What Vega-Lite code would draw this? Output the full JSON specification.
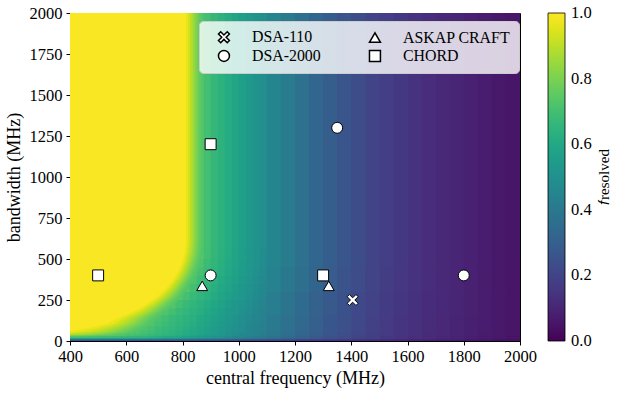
{
"$schema":"https://vega.github.io/schema/vega-lite/v6.json",
"width":450,"height":328,
"autosize":{"type":"none"},
"padding":{"left":70,"top":13,"right":103,"bottom":52},
"background":"white",
"config":{"font":"Liberation Serif","view":{"stroke":"black","strokeWidth":1},
"axis":{"domainColor":"black","tickColor":"black","labelColor":"black","titleColor":"black","labelFontSize":16.5,"titleFontSize":18,"titleFontWeight":"normal","grid":false,"tickSize":4,"labelFlush":false,"labelOverlap":false,"labelFont":"Liberation Serif","titleFont":"Liberation Serif","format":"d"}},
"datasets":{
"grid":[
{"a":400,"b":425,"c":0,"d":5,"f":0.235},{"a":400,"b":425,"c":5,"d":12,"f":0.373},{"a":400,"b":425,"c":12,"d":20,"f":0.593},{"a":400,"b":425,"c":20,"d":30,"f":0.71},{"a":400,"b":425,"c":30,"d":45,"f":0.869},{"a":400,"b":425,"c":45,"d":65,"f":0.965},{"a":400,"b":425,"c":65,"d":90,"f":0.996},{"a":400,"b":425,"c":90,"d":2000,"f":1},
{"a":425,"b":450,"c":0,"d":5,"f":0.235},{"a":425,"b":450,"c":5,"d":12,"f":0.372},{"a":425,"b":450,"c":12,"d":20,"f":0.591},{"a":425,"b":450,"c":20,"d":30,"f":0.706},{"a":425,"b":450,"c":30,"d":45,"f":0.853},{"a":425,"b":450,"c":45,"d":65,"f":0.95},{"a":425,"b":450,"c":65,"d":90,"f":0.992},{"a":425,"b":450,"c":90,"d":2000,"f":1},
{"a":450,"b":475,"c":0,"d":5,"f":0.234},{"a":450,"b":475,"c":5,"d":12,"f":0.371},{"a":450,"b":475,"c":12,"d":20,"f":0.589},{"a":450,"b":475,"c":20,"d":30,"f":0.702},{"a":450,"b":475,"c":30,"d":45,"f":0.833},{"a":450,"b":475,"c":45,"d":65,"f":0.93},{"a":450,"b":475,"c":65,"d":90,"f":0.98},{"a":450,"b":475,"c":90,"d":2000,"f":1},
{"a":475,"b":500,"c":0,"d":5,"f":0.234},{"a":475,"b":500,"c":5,"d":12,"f":0.37},{"a":475,"b":500,"c":12,"d":20,"f":0.586},{"a":475,"b":500,"c":20,"d":30,"f":0.696},{"a":475,"b":500,"c":30,"d":45,"f":0.81},{"a":475,"b":500,"c":45,"d":65,"f":0.906},{"a":475,"b":500,"c":65,"d":90,"f":0.96},{"a":475,"b":500,"c":90,"d":2000,"f":1},
{"a":500,"b":525,"c":0,"d":5,"f":0.233},{"a":500,"b":525,"c":5,"d":12,"f":0.369},{"a":500,"b":525,"c":12,"d":20,"f":0.583},{"a":500,"b":525,"c":20,"d":30,"f":0.689},{"a":500,"b":525,"c":30,"d":45,"f":0.789},{"a":500,"b":525,"c":45,"d":65,"f":0.88},{"a":500,"b":525,"c":65,"d":90,"f":0.935},{"a":500,"b":525,"c":90,"d":120,"f":0.993},{"a":500,"b":525,"c":120,"d":2000,"f":1},
{"a":525,"b":550,"c":0,"d":5,"f":0.232},{"a":525,"b":550,"c":5,"d":12,"f":0.367},{"a":525,"b":550,"c":12,"d":20,"f":0.579},{"a":525,"b":550,"c":20,"d":30,"f":0.681},{"a":525,"b":550,"c":30,"d":45,"f":0.765},{"a":525,"b":550,"c":45,"d":65,"f":0.848},{"a":525,"b":550,"c":65,"d":90,"f":0.901},{"a":525,"b":550,"c":90,"d":120,"f":0.975},{"a":525,"b":550,"c":120,"d":160,"f":0.998},{"a":525,"b":550,"c":160,"d":2000,"f":1},
{"a":550,"b":575,"c":0,"d":5,"f":0.231},{"a":550,"b":575,"c":5,"d":12,"f":0.365},{"a":550,"b":575,"c":12,"d":20,"f":0.575},{"a":550,"b":575,"c":20,"d":30,"f":0.675},{"a":550,"b":575,"c":30,"d":45,"f":0.745},{"a":550,"b":575,"c":45,"d":65,"f":0.815},{"a":550,"b":575,"c":65,"d":90,"f":0.868},{"a":550,"b":575,"c":90,"d":120,"f":0.943},{"a":550,"b":575,"c":120,"d":160,"f":0.99},{"a":550,"b":575,"c":160,"d":2000,"f":1},
{"a":575,"b":600,"c":0,"d":5,"f":0.23},{"a":575,"b":600,"c":5,"d":12,"f":0.363},{"a":575,"b":600,"c":12,"d":20,"f":0.57},{"a":575,"b":600,"c":20,"d":30,"f":0.669},{"a":575,"b":600,"c":30,"d":45,"f":0.726},{"a":575,"b":600,"c":45,"d":65,"f":0.781},{"a":575,"b":600,"c":65,"d":90,"f":0.827},{"a":575,"b":600,"c":90,"d":120,"f":0.901},{"a":575,"b":600,"c":120,"d":160,"f":0.956},{"a":575,"b":600,"c":160,"d":2000,"f":1},
{"a":600,"b":625,"c":0,"d":5,"f":0.229},{"a":600,"b":625,"c":5,"d":12,"f":0.361},{"a":600,"b":625,"c":12,"d":20,"f":0.565},{"a":600,"b":625,"c":20,"d":30,"f":0.662},{"a":600,"b":625,"c":30,"d":45,"f":0.71},{"a":600,"b":625,"c":45,"d":65,"f":0.75},{"a":600,"b":625,"c":65,"d":90,"f":0.786},{"a":600,"b":625,"c":90,"d":120,"f":0.854},{"a":600,"b":625,"c":120,"d":160,"f":0.908},{"a":600,"b":625,"c":160,"d":200,"f":0.995},{"a":600,"b":625,"c":200,"d":2000,"f":1},
{"a":625,"b":650,"c":0,"d":5,"f":0.228},{"a":625,"b":650,"c":5,"d":12,"f":0.358},{"a":625,"b":650,"c":12,"d":20,"f":0.559},{"a":625,"b":650,"c":20,"d":30,"f":0.654},{"a":625,"b":650,"c":30,"d":45,"f":0.697},{"a":625,"b":650,"c":45,"d":65,"f":0.725},{"a":625,"b":650,"c":65,"d":90,"f":0.751},{"a":625,"b":650,"c":90,"d":120,"f":0.804},{"a":625,"b":650,"c":120,"d":160,"f":0.856},{"a":625,"b":650,"c":160,"d":200,"f":0.963},{"a":625,"b":650,"c":200,"d":2000,"f":1},
{"a":650,"b":675,"c":0,"d":5,"f":0.227},{"a":650,"b":675,"c":5,"d":12,"f":0.355},{"a":650,"b":675,"c":12,"d":20,"f":0.553},{"a":650,"b":675,"c":20,"d":30,"f":0.646},{"a":650,"b":675,"c":30,"d":45,"f":0.682},{"a":650,"b":675,"c":45,"d":65,"f":0.706},{"a":650,"b":675,"c":65,"d":90,"f":0.722},{"a":650,"b":675,"c":90,"d":120,"f":0.76},{"a":650,"b":675,"c":120,"d":160,"f":0.8},{"a":650,"b":675,"c":160,"d":200,"f":0.903},{"a":650,"b":675,"c":200,"d":250,"f":0.994},{"a":650,"b":675,"c":250,"d":2000,"f":1},
{"a":675,"b":700,"c":0,"d":5,"f":0.225},{"a":675,"b":700,"c":5,"d":12,"f":0.352},{"a":675,"b":700,"c":12,"d":20,"f":0.546},{"a":675,"b":700,"c":20,"d":30,"f":0.636},{"a":675,"b":700,"c":30,"d":45,"f":0.671},{"a":675,"b":700,"c":45,"d":65,"f":0.69},{"a":675,"b":700,"c":65,"d":90,"f":0.703},{"a":675,"b":700,"c":90,"d":120,"f":0.726},{"a":675,"b":700,"c":120,"d":160,"f":0.753},{"a":675,"b":700,"c":160,"d":200,"f":0.84},{"a":675,"b":700,"c":200,"d":250,"f":0.948},{"a":675,"b":700,"c":250,"d":2000,"f":1},
{"a":700,"b":725,"c":0,"d":5,"f":0.223},{"a":700,"b":725,"c":5,"d":12,"f":0.348},{"a":700,"b":725,"c":12,"d":20,"f":0.538},{"a":700,"b":725,"c":20,"d":30,"f":0.626},{"a":700,"b":725,"c":30,"d":45,"f":0.66},{"a":700,"b":725,"c":45,"d":65,"f":0.674},{"a":700,"b":725,"c":65,"d":90,"f":0.685},{"a":700,"b":725,"c":90,"d":120,"f":0.703},{"a":700,"b":725,"c":120,"d":160,"f":0.719},{"a":700,"b":725,"c":160,"d":200,"f":0.774},{"a":700,"b":725,"c":200,"d":250,"f":0.872},{"a":700,"b":725,"c":250,"d":300,"f":0.985},{"a":700,"b":725,"c":300,"d":2000,"f":1},
{"a":725,"b":750,"c":0,"d":5,"f":0.221},{"a":725,"b":750,"c":5,"d":12,"f":0.345},{"a":725,"b":750,"c":12,"d":20,"f":0.529},{"a":725,"b":750,"c":20,"d":30,"f":0.613},{"a":725,"b":750,"c":30,"d":45,"f":0.648},{"a":725,"b":750,"c":45,"d":65,"f":0.662},{"a":725,"b":750,"c":65,"d":90,"f":0.67},{"a":725,"b":750,"c":90,"d":120,"f":0.683},{"a":725,"b":750,"c":120,"d":160,"f":0.696},{"a":725,"b":750,"c":160,"d":200,"f":0.728},{"a":725,"b":750,"c":200,"d":250,"f":0.794},{"a":725,"b":750,"c":250,"d":300,"f":0.908},{"a":725,"b":750,"c":300,"d":350,"f":0.992},{"a":725,"b":750,"c":350,"d":2000,"f":1},
{"a":750,"b":775,"c":0,"d":5,"f":0.219},{"a":750,"b":775,"c":5,"d":12,"f":0.341},{"a":750,"b":775,"c":12,"d":20,"f":0.52},{"a":750,"b":775,"c":20,"d":30,"f":0.599},{"a":750,"b":775,"c":30,"d":45,"f":0.635},{"a":750,"b":775,"c":45,"d":65,"f":0.649},{"a":750,"b":775,"c":65,"d":90,"f":0.656},{"a":750,"b":775,"c":90,"d":120,"f":0.668},{"a":750,"b":775,"c":120,"d":160,"f":0.676},{"a":750,"b":775,"c":160,"d":200,"f":0.7},{"a":750,"b":775,"c":200,"d":250,"f":0.736},{"a":750,"b":775,"c":250,"d":300,"f":0.819},{"a":750,"b":775,"c":300,"d":350,"f":0.915},{"a":750,"b":775,"c":350,"d":400,"f":0.99},{"a":750,"b":775,"c":400,"d":2000,"f":1},
{"a":775,"b":800,"c":0,"d":5,"f":0.217},{"a":775,"b":800,"c":5,"d":12,"f":0.336},{"a":775,"b":800,"c":12,"d":20,"f":0.511},{"a":775,"b":800,"c":20,"d":30,"f":0.587},{"a":775,"b":800,"c":30,"d":45,"f":0.62},{"a":775,"b":800,"c":45,"d":65,"f":0.634},{"a":775,"b":800,"c":65,"d":90,"f":0.642},{"a":775,"b":800,"c":90,"d":120,"f":0.653},{"a":775,"b":800,"c":120,"d":160,"f":0.66},{"a":775,"b":800,"c":160,"d":200,"f":0.677},{"a":775,"b":800,"c":200,"d":250,"f":0.702},{"a":775,"b":800,"c":250,"d":300,"f":0.745},{"a":775,"b":800,"c":300,"d":350,"f":0.815},{"a":775,"b":800,"c":350,"d":400,"f":0.9},{"a":775,"b":800,"c":400,"d":450,"f":0.972},{"a":775,"b":800,"c":450,"d":500,"f":0.997},{"a":775,"b":800,"c":500,"d":2000,"f":1},
{"a":800,"b":825,"c":0,"d":5,"f":0.214},{"a":800,"b":825,"c":5,"d":12,"f":0.331},{"a":800,"b":825,"c":12,"d":20,"f":0.5},{"a":800,"b":825,"c":20,"d":30,"f":0.574},{"a":800,"b":825,"c":30,"d":45,"f":0.603},{"a":800,"b":825,"c":45,"d":65,"f":0.618},{"a":800,"b":825,"c":65,"d":90,"f":0.626},{"a":800,"b":825,"c":90,"d":120,"f":0.637},{"a":800,"b":825,"c":120,"d":160,"f":0.645},{"a":800,"b":825,"c":160,"d":200,"f":0.66},{"a":800,"b":825,"c":200,"d":250,"f":0.677},{"a":800,"b":825,"c":250,"d":300,"f":0.704},{"a":800,"b":825,"c":300,"d":350,"f":0.738},{"a":800,"b":825,"c":350,"d":400,"f":0.794},{"a":800,"b":825,"c":400,"d":450,"f":0.865},{"a":800,"b":825,"c":450,"d":500,"f":0.919},{"a":800,"b":825,"c":500,"d":560,"f":0.961},{"a":800,"b":825,"c":560,"d":2000,"f":0.98},
{"a":825,"b":850,"c":0,"d":5,"f":0.212},{"a":825,"b":850,"c":5,"d":12,"f":0.326},{"a":825,"b":850,"c":12,"d":20,"f":0.489},{"a":825,"b":850,"c":20,"d":30,"f":0.56},{"a":825,"b":850,"c":30,"d":45,"f":0.588},{"a":825,"b":850,"c":45,"d":65,"f":0.599},{"a":825,"b":850,"c":65,"d":90,"f":0.607},{"a":825,"b":850,"c":90,"d":120,"f":0.619},{"a":825,"b":850,"c":120,"d":160,"f":0.628},{"a":825,"b":850,"c":160,"d":200,"f":0.643},{"a":825,"b":850,"c":200,"d":250,"f":0.658},{"a":825,"b":850,"c":250,"d":300,"f":0.676},{"a":825,"b":850,"c":300,"d":350,"f":0.698},{"a":825,"b":850,"c":350,"d":400,"f":0.723},{"a":825,"b":850,"c":400,"d":450,"f":0.76},{"a":825,"b":850,"c":450,"d":500,"f":0.8},{"a":825,"b":850,"c":500,"d":560,"f":0.842},{"a":825,"b":850,"c":560,"d":2000,"f":0.863},
{"a":850,"b":875,"c":0,"d":5,"f":0.21},{"a":850,"b":875,"c":5,"d":12,"f":0.32},{"a":850,"b":875,"c":12,"d":20,"f":0.477},{"a":850,"b":875,"c":20,"d":30,"f":0.546},{"a":850,"b":875,"c":30,"d":45,"f":0.572},{"a":850,"b":875,"c":45,"d":65,"f":0.583},{"a":850,"b":875,"c":65,"d":90,"f":0.59},{"a":850,"b":875,"c":90,"d":120,"f":0.599},{"a":850,"b":875,"c":120,"d":160,"f":0.607},{"a":850,"b":875,"c":160,"d":200,"f":0.624},{"a":850,"b":875,"c":200,"d":250,"f":0.64},{"a":850,"b":875,"c":250,"d":300,"f":0.656},{"a":850,"b":875,"c":300,"d":350,"f":0.671},{"a":850,"b":875,"c":350,"d":400,"f":0.687},{"a":850,"b":875,"c":400,"d":450,"f":0.706},{"a":850,"b":875,"c":450,"d":500,"f":0.722},{"a":850,"b":875,"c":500,"d":560,"f":0.741},{"a":850,"b":875,"c":560,"d":2000,"f":0.753},
{"a":875,"b":900,"c":0,"d":5,"f":0.207},{"a":875,"b":900,"c":5,"d":12,"f":0.314},{"a":875,"b":900,"c":12,"d":20,"f":0.466},{"a":875,"b":900,"c":20,"d":30,"f":0.531},{"a":875,"b":900,"c":30,"d":45,"f":0.556},{"a":875,"b":900,"c":45,"d":65,"f":0.567},{"a":875,"b":900,"c":65,"d":90,"f":0.573},{"a":875,"b":900,"c":90,"d":120,"f":0.581},{"a":875,"b":900,"c":120,"d":160,"f":0.588},{"a":875,"b":900,"c":160,"d":200,"f":0.601},{"a":875,"b":900,"c":200,"d":250,"f":0.618},{"a":875,"b":900,"c":250,"d":300,"f":0.636},{"a":875,"b":900,"c":300,"d":350,"f":0.65},{"a":875,"b":900,"c":350,"d":400,"f":0.662},{"a":875,"b":900,"c":400,"d":450,"f":0.674},{"a":875,"b":900,"c":450,"d":500,"f":0.683},{"a":875,"b":900,"c":500,"d":560,"f":0.694},{"a":875,"b":900,"c":560,"d":2000,"f":0.7},
{"a":900,"b":925,"c":0,"d":5,"f":0.204},{"a":900,"b":925,"c":5,"d":12,"f":0.307},{"a":900,"b":925,"c":12,"d":20,"f":0.455},{"a":900,"b":925,"c":20,"d":30,"f":0.515},{"a":900,"b":925,"c":30,"d":45,"f":0.539},{"a":900,"b":925,"c":45,"d":65,"f":0.549},{"a":900,"b":925,"c":65,"d":90,"f":0.555},{"a":900,"b":925,"c":90,"d":120,"f":0.564},{"a":900,"b":925,"c":120,"d":160,"f":0.569},{"a":900,"b":925,"c":160,"d":200,"f":0.582},{"a":900,"b":925,"c":200,"d":250,"f":0.595},{"a":900,"b":925,"c":250,"d":300,"f":0.612},{"a":900,"b":925,"c":300,"d":350,"f":0.627},{"a":900,"b":925,"c":350,"d":400,"f":0.64},{"a":900,"b":925,"c":400,"d":450,"f":0.65},{"a":900,"b":925,"c":450,"d":500,"f":0.658},{"a":900,"b":925,"c":500,"d":560,"f":0.664},{"a":900,"b":925,"c":560,"d":2000,"f":0.668},
{"a":925,"b":950,"c":0,"d":5,"f":0.201},{"a":925,"b":950,"c":5,"d":12,"f":0.301},{"a":925,"b":950,"c":12,"d":20,"f":0.442},{"a":925,"b":950,"c":20,"d":30,"f":0.499},{"a":925,"b":950,"c":30,"d":45,"f":0.522},{"a":925,"b":950,"c":45,"d":65,"f":0.531},{"a":925,"b":950,"c":65,"d":90,"f":0.537},{"a":925,"b":950,"c":90,"d":120,"f":0.545},{"a":925,"b":950,"c":120,"d":160,"f":0.55},{"a":925,"b":950,"c":160,"d":200,"f":0.563},{"a":925,"b":950,"c":200,"d":250,"f":0.575},{"a":925,"b":950,"c":250,"d":300,"f":0.589},{"a":925,"b":950,"c":300,"d":350,"f":0.6},{"a":925,"b":950,"c":350,"d":400,"f":0.614},{"a":925,"b":950,"c":400,"d":450,"f":0.626},{"a":925,"b":950,"c":450,"d":500,"f":0.634},{"a":925,"b":950,"c":500,"d":560,"f":0.64},{"a":925,"b":950,"c":560,"d":2000,"f":0.643},
{"a":950,"b":975,"c":0,"d":5,"f":0.198},{"a":950,"b":975,"c":5,"d":12,"f":0.295},{"a":950,"b":975,"c":12,"d":20,"f":0.429},{"a":950,"b":975,"c":20,"d":30,"f":0.482},{"a":950,"b":975,"c":30,"d":45,"f":0.504},{"a":950,"b":975,"c":45,"d":65,"f":0.513},{"a":950,"b":975,"c":65,"d":90,"f":0.518},{"a":950,"b":975,"c":90,"d":120,"f":0.526},{"a":950,"b":975,"c":120,"d":160,"f":0.531},{"a":950,"b":975,"c":160,"d":200,"f":0.542},{"a":950,"b":975,"c":200,"d":250,"f":0.554},{"a":950,"b":975,"c":250,"d":300,"f":0.567},{"a":950,"b":975,"c":300,"d":350,"f":0.578},{"a":950,"b":975,"c":350,"d":400,"f":0.588},{"a":950,"b":975,"c":400,"d":450,"f":0.598},{"a":950,"b":975,"c":450,"d":500,"f":0.605},{"a":950,"b":975,"c":500,"d":560,"f":0.612},{"a":950,"b":975,"c":560,"d":2000,"f":0.615},
{"a":975,"b":1000,"c":0,"d":5,"f":0.194},{"a":975,"b":1000,"c":5,"d":12,"f":0.288},{"a":975,"b":1000,"c":12,"d":20,"f":0.417},{"a":975,"b":1000,"c":20,"d":30,"f":0.466},{"a":975,"b":1000,"c":30,"d":45,"f":0.485},{"a":975,"b":1000,"c":45,"d":65,"f":0.494},{"a":975,"b":1000,"c":65,"d":90,"f":0.499},{"a":975,"b":1000,"c":90,"d":120,"f":0.506},{"a":975,"b":1000,"c":120,"d":160,"f":0.511},{"a":975,"b":1000,"c":160,"d":200,"f":0.522},{"a":975,"b":1000,"c":200,"d":250,"f":0.533},{"a":975,"b":1000,"c":250,"d":300,"f":0.545},{"a":975,"b":1000,"c":300,"d":350,"f":0.556},{"a":975,"b":1000,"c":350,"d":400,"f":0.565},{"a":975,"b":1000,"c":400,"d":450,"f":0.574},{"a":975,"b":1000,"c":450,"d":500,"f":0.58},{"a":975,"b":1000,"c":500,"d":560,"f":0.585},{"a":975,"b":1000,"c":560,"d":2000,"f":0.588},
{"a":1000,"b":1025,"c":0,"d":5,"f":0.19},{"a":1000,"b":1025,"c":5,"d":12,"f":0.28},{"a":1000,"b":1025,"c":12,"d":20,"f":0.405},{"a":1000,"b":1025,"c":20,"d":30,"f":0.45},{"a":1000,"b":1025,"c":30,"d":45,"f":0.468},{"a":1000,"b":1025,"c":45,"d":65,"f":0.475},{"a":1000,"b":1025,"c":65,"d":90,"f":0.48},{"a":1000,"b":1025,"c":90,"d":120,"f":0.486},{"a":1000,"b":1025,"c":120,"d":160,"f":0.491},{"a":1000,"b":1025,"c":160,"d":200,"f":0.5},{"a":1000,"b":1025,"c":200,"d":250,"f":0.511},{"a":1000,"b":1025,"c":250,"d":300,"f":0.523},{"a":1000,"b":1025,"c":300,"d":350,"f":0.533},{"a":1000,"b":1025,"c":350,"d":400,"f":0.542},{"a":1000,"b":1025,"c":400,"d":450,"f":0.55},{"a":1000,"b":1025,"c":450,"d":500,"f":0.555},{"a":1000,"b":1025,"c":500,"d":560,"f":0.56},{"a":1000,"b":1025,"c":560,"d":2000,"f":0.563},
{"a":1025,"b":1050,"c":0,"d":5,"f":0.187},{"a":1025,"b":1050,"c":5,"d":12,"f":0.273},{"a":1025,"b":1050,"c":12,"d":20,"f":0.392},{"a":1025,"b":1050,"c":20,"d":30,"f":0.433},{"a":1025,"b":1050,"c":30,"d":45,"f":0.45},{"a":1025,"b":1050,"c":45,"d":65,"f":0.458},{"a":1025,"b":1050,"c":65,"d":90,"f":0.462},{"a":1025,"b":1050,"c":90,"d":120,"f":0.467},{"a":1025,"b":1050,"c":120,"d":160,"f":0.471},{"a":1025,"b":1050,"c":160,"d":200,"f":0.48},{"a":1025,"b":1050,"c":200,"d":250,"f":0.489},{"a":1025,"b":1050,"c":250,"d":300,"f":0.5},{"a":1025,"b":1050,"c":300,"d":350,"f":0.51},{"a":1025,"b":1050,"c":350,"d":400,"f":0.518},{"a":1025,"b":1050,"c":400,"d":450,"f":0.525},{"a":1025,"b":1050,"c":450,"d":500,"f":0.531},{"a":1025,"b":1050,"c":500,"d":560,"f":0.535},{"a":1025,"b":1050,"c":560,"d":2000,"f":0.538},
{"a":1050,"b":1075,"c":0,"d":5,"f":0.184},{"a":1050,"b":1075,"c":5,"d":12,"f":0.266},{"a":1050,"b":1075,"c":12,"d":20,"f":0.379},{"a":1050,"b":1075,"c":20,"d":30,"f":0.418},{"a":1050,"b":1075,"c":30,"d":45,"f":0.432},{"a":1050,"b":1075,"c":45,"d":65,"f":0.439},{"a":1050,"b":1075,"c":65,"d":90,"f":0.443},{"a":1050,"b":1075,"c":90,"d":120,"f":0.449},{"a":1050,"b":1075,"c":120,"d":160,"f":0.453},{"a":1050,"b":1075,"c":160,"d":200,"f":0.461},{"a":1050,"b":1075,"c":200,"d":250,"f":0.469},{"a":1050,"b":1075,"c":250,"d":300,"f":0.478},{"a":1050,"b":1075,"c":300,"d":350,"f":0.487},{"a":1050,"b":1075,"c":350,"d":400,"f":0.494},{"a":1050,"b":1075,"c":400,"d":450,"f":0.501},{"a":1050,"b":1075,"c":450,"d":500,"f":0.507},{"a":1050,"b":1075,"c":500,"d":560,"f":0.511},{"a":1050,"b":1075,"c":560,"d":2000,"f":0.513},
{"a":1075,"b":1100,"c":0,"d":5,"f":0.181},{"a":1075,"b":1100,"c":5,"d":12,"f":0.259},{"a":1075,"b":1100,"c":12,"d":20,"f":0.365},{"a":1075,"b":1100,"c":20,"d":30,"f":0.403},{"a":1075,"b":1100,"c":30,"d":45,"f":0.416},{"a":1075,"b":1100,"c":45,"d":65,"f":0.422},{"a":1075,"b":1100,"c":65,"d":90,"f":0.425},{"a":1075,"b":1100,"c":90,"d":120,"f":0.429},{"a":1075,"b":1100,"c":120,"d":160,"f":0.433},{"a":1075,"b":1100,"c":160,"d":200,"f":0.441},{"a":1075,"b":1100,"c":200,"d":250,"f":0.449},{"a":1075,"b":1100,"c":250,"d":300,"f":0.458},{"a":1075,"b":1100,"c":300,"d":350,"f":0.465},{"a":1075,"b":1100,"c":350,"d":400,"f":0.471},{"a":1075,"b":1100,"c":400,"d":450,"f":0.477},{"a":1075,"b":1100,"c":450,"d":500,"f":0.482},{"a":1075,"b":1100,"c":500,"d":560,"f":0.486},{"a":1075,"b":1100,"c":560,"d":2000,"f":0.488},
{"a":1100,"b":1150,"c":0,"d":5,"f":0.175},{"a":1100,"b":1150,"c":5,"d":12,"f":0.247},{"a":1100,"b":1150,"c":12,"d":20,"f":0.344},{"a":1100,"b":1150,"c":20,"d":30,"f":0.379},{"a":1100,"b":1150,"c":30,"d":65,"f":0.394},{"a":1100,"b":1150,"c":65,"d":160,"f":0.404},{"a":1100,"b":1150,"c":160,"d":300,"f":0.42},{"a":1100,"b":1150,"c":300,"d":450,"f":0.439},{"a":1100,"b":1150,"c":450,"d":2000,"f":0.453},
{"a":1150,"b":1200,"c":0,"d":5,"f":0.167},{"a":1150,"b":1200,"c":5,"d":12,"f":0.231},{"a":1150,"b":1200,"c":12,"d":20,"f":0.315},{"a":1150,"b":1200,"c":20,"d":30,"f":0.347},{"a":1150,"b":1200,"c":30,"d":65,"f":0.36},{"a":1150,"b":1200,"c":65,"d":160,"f":0.369},{"a":1150,"b":1200,"c":160,"d":300,"f":0.383},{"a":1150,"b":1200,"c":300,"d":450,"f":0.4},{"a":1150,"b":1200,"c":450,"d":2000,"f":0.411},
{"a":1200,"b":1250,"c":0,"d":5,"f":0.158},{"a":1200,"b":1250,"c":5,"d":12,"f":0.214},{"a":1200,"b":1250,"c":12,"d":20,"f":0.288},{"a":1200,"b":1250,"c":20,"d":30,"f":0.313},{"a":1200,"b":1250,"c":30,"d":65,"f":0.326},{"a":1200,"b":1250,"c":65,"d":160,"f":0.334},{"a":1200,"b":1250,"c":160,"d":300,"f":0.346},{"a":1200,"b":1250,"c":300,"d":450,"f":0.361},{"a":1200,"b":1250,"c":450,"d":2000,"f":0.371},
{"a":1250,"b":1300,"c":0,"d":5,"f":0.148},{"a":1250,"b":1300,"c":5,"d":12,"f":0.198},{"a":1250,"b":1300,"c":12,"d":20,"f":0.262},{"a":1250,"b":1300,"c":20,"d":30,"f":0.283},{"a":1250,"b":1300,"c":30,"d":65,"f":0.293},{"a":1250,"b":1300,"c":65,"d":160,"f":0.299},{"a":1250,"b":1300,"c":160,"d":300,"f":0.309},{"a":1250,"b":1300,"c":300,"d":450,"f":0.322},{"a":1250,"b":1300,"c":450,"d":2000,"f":0.331},
{"a":1300,"b":1350,"c":0,"d":5,"f":0.141},{"a":1300,"b":1350,"c":5,"d":12,"f":0.184},{"a":1300,"b":1350,"c":12,"d":20,"f":0.238},{"a":1300,"b":1350,"c":20,"d":30,"f":0.256},{"a":1300,"b":1350,"c":30,"d":65,"f":0.263},{"a":1300,"b":1350,"c":65,"d":160,"f":0.268},{"a":1300,"b":1350,"c":160,"d":300,"f":0.276},{"a":1300,"b":1350,"c":300,"d":450,"f":0.286},{"a":1300,"b":1350,"c":450,"d":2000,"f":0.293},
{"a":1350,"b":1400,"c":0,"d":5,"f":0.133},{"a":1350,"b":1400,"c":5,"d":12,"f":0.171},{"a":1350,"b":1400,"c":12,"d":20,"f":0.213},{"a":1350,"b":1400,"c":20,"d":30,"f":0.229},{"a":1350,"b":1400,"c":30,"d":65,"f":0.236},{"a":1350,"b":1400,"c":65,"d":160,"f":0.24},{"a":1350,"b":1400,"c":160,"d":300,"f":0.247},{"a":1350,"b":1400,"c":300,"d":450,"f":0.255},{"a":1350,"b":1400,"c":450,"d":2000,"f":0.26},
{"a":1400,"b":1450,"c":0,"d":5,"f":0.124},{"a":1400,"b":1450,"c":5,"d":12,"f":0.156},{"a":1400,"b":1450,"c":12,"d":20,"f":0.191},{"a":1400,"b":1450,"c":20,"d":30,"f":0.204},{"a":1400,"b":1450,"c":30,"d":65,"f":0.209},{"a":1400,"b":1450,"c":65,"d":160,"f":0.213},{"a":1400,"b":1450,"c":160,"d":300,"f":0.218},{"a":1400,"b":1450,"c":300,"d":450,"f":0.226},{"a":1400,"b":1450,"c":450,"d":2000,"f":0.23},
{"a":1450,"b":1500,"c":0,"d":5,"f":0.116},{"a":1450,"b":1500,"c":5,"d":12,"f":0.144},{"a":1450,"b":1500,"c":12,"d":20,"f":0.175},{"a":1450,"b":1500,"c":20,"d":30,"f":0.183},{"a":1450,"b":1500,"c":30,"d":65,"f":0.187},{"a":1450,"b":1500,"c":65,"d":160,"f":0.189},{"a":1450,"b":1500,"c":160,"d":300,"f":0.194},{"a":1450,"b":1500,"c":300,"d":450,"f":0.199},{"a":1450,"b":1500,"c":450,"d":2000,"f":0.203},
{"a":1500,"b":1550,"c":0,"d":5,"f":0.108},{"a":1500,"b":1550,"c":5,"d":12,"f":0.132},{"a":1500,"b":1550,"c":12,"d":20,"f":0.156},{"a":1500,"b":1550,"c":20,"d":30,"f":0.165},{"a":1500,"b":1550,"c":30,"d":65,"f":0.169},{"a":1500,"b":1550,"c":65,"d":160,"f":0.171},{"a":1500,"b":1550,"c":160,"d":300,"f":0.174},{"a":1500,"b":1550,"c":300,"d":450,"f":0.178},{"a":1500,"b":1550,"c":450,"d":2000,"f":0.181},
{"a":1550,"b":1600,"c":0,"d":5,"f":0.099},{"a":1550,"b":1600,"c":5,"d":12,"f":0.12},{"a":1550,"b":1600,"c":12,"d":20,"f":0.142},{"a":1550,"b":1600,"c":20,"d":30,"f":0.147},{"a":1550,"b":1600,"c":30,"d":65,"f":0.149},{"a":1550,"b":1600,"c":65,"d":160,"f":0.151},{"a":1550,"b":1600,"c":160,"d":300,"f":0.154},{"a":1550,"b":1600,"c":300,"d":450,"f":0.158},{"a":1550,"b":1600,"c":450,"d":2000,"f":0.161},
{"a":1600,"b":1650,"c":0,"d":5,"f":0.09},{"a":1600,"b":1650,"c":5,"d":12,"f":0.11},{"a":1600,"b":1650,"c":12,"d":20,"f":0.128},{"a":1600,"b":1650,"c":20,"d":30,"f":0.133},{"a":1600,"b":1650,"c":30,"d":65,"f":0.136},{"a":1600,"b":1650,"c":65,"d":160,"f":0.137},{"a":1600,"b":1650,"c":160,"d":300,"f":0.139},{"a":1600,"b":1650,"c":300,"d":450,"f":0.141},{"a":1600,"b":1650,"c":450,"d":2000,"f":0.143},
{"a":1650,"b":1700,"c":0,"d":5,"f":0.081},{"a":1650,"b":1700,"c":5,"d":12,"f":0.1},{"a":1650,"b":1700,"c":12,"d":20,"f":0.115},{"a":1650,"b":1700,"c":20,"d":30,"f":0.119},{"a":1650,"b":1700,"c":30,"d":65,"f":0.121},{"a":1650,"b":1700,"c":65,"d":160,"f":0.122},{"a":1650,"b":1700,"c":160,"d":300,"f":0.124},{"a":1650,"b":1700,"c":300,"d":450,"f":0.126},{"a":1650,"b":1700,"c":450,"d":2000,"f":0.128},
{"a":1700,"b":1750,"c":0,"d":5,"f":0.071},{"a":1700,"b":1750,"c":5,"d":12,"f":0.089},{"a":1700,"b":1750,"c":12,"d":20,"f":0.104},{"a":1700,"b":1750,"c":20,"d":30,"f":0.107},{"a":1700,"b":1750,"c":30,"d":65,"f":0.109},{"a":1700,"b":1750,"c":65,"d":160,"f":0.11},{"a":1700,"b":1750,"c":160,"d":300,"f":0.111},{"a":1700,"b":1750,"c":300,"d":450,"f":0.113},{"a":1700,"b":1750,"c":450,"d":2000,"f":0.114},
{"a":1750,"b":1800,"c":0,"d":5,"f":0.064},{"a":1750,"b":1800,"c":5,"d":12,"f":0.079},{"a":1750,"b":1800,"c":12,"d":20,"f":0.092},{"a":1750,"b":1800,"c":20,"d":30,"f":0.095},{"a":1750,"b":1800,"c":30,"d":65,"f":0.097},{"a":1750,"b":1800,"c":65,"d":160,"f":0.097},{"a":1750,"b":1800,"c":160,"d":300,"f":0.099},{"a":1750,"b":1800,"c":300,"d":450,"f":0.101},{"a":1750,"b":1800,"c":450,"d":2000,"f":0.102},
{"a":1800,"b":1850,"c":0,"d":5,"f":0.056},{"a":1800,"b":1850,"c":5,"d":12,"f":0.068},{"a":1800,"b":1850,"c":12,"d":20,"f":0.08},{"a":1800,"b":1850,"c":20,"d":30,"f":0.083},{"a":1800,"b":1850,"c":30,"d":65,"f":0.085},{"a":1800,"b":1850,"c":65,"d":160,"f":0.085},{"a":1800,"b":1850,"c":160,"d":300,"f":0.087},{"a":1800,"b":1850,"c":300,"d":450,"f":0.088},{"a":1800,"b":1850,"c":450,"d":2000,"f":0.089},
{"a":1850,"b":1900,"c":0,"d":5,"f":0.049},{"a":1850,"b":1900,"c":5,"d":12,"f":0.06},{"a":1850,"b":1900,"c":12,"d":20,"f":0.068},{"a":1850,"b":1900,"c":20,"d":30,"f":0.071},{"a":1850,"b":1900,"c":30,"d":65,"f":0.072},{"a":1850,"b":1900,"c":65,"d":160,"f":0.073},{"a":1850,"b":1900,"c":160,"d":300,"f":0.074},{"a":1850,"b":1900,"c":300,"d":450,"f":0.075},{"a":1850,"b":1900,"c":450,"d":2000,"f":0.076},
{"a":1900,"b":1950,"c":0,"d":5,"f":0.045},{"a":1900,"b":1950,"c":5,"d":12,"f":0.05},{"a":1900,"b":1950,"c":12,"d":20,"f":0.059},{"a":1900,"b":1950,"c":20,"d":30,"f":0.061},{"a":1900,"b":1950,"c":30,"d":65,"f":0.062},{"a":1900,"b":1950,"c":65,"d":160,"f":0.063},{"a":1900,"b":1950,"c":160,"d":300,"f":0.064},{"a":1900,"b":1950,"c":300,"d":450,"f":0.065},{"a":1900,"b":1950,"c":450,"d":2000,"f":0.065},
{"a":1950,"b":2000,"c":0,"d":5,"f":0.041},{"a":1950,"b":2000,"c":5,"d":12,"f":0.046},{"a":1950,"b":2000,"c":12,"d":20,"f":0.05},{"a":1950,"b":2000,"c":20,"d":30,"f":0.051},{"a":1950,"b":2000,"c":30,"d":65,"f":0.052},{"a":1950,"b":2000,"c":65,"d":160,"f":0.053},{"a":1950,"b":2000,"c":160,"d":300,"f":0.054},{"a":1950,"b":2000,"c":300,"d":450,"f":0.054},{"a":1950,"b":2000,"c":450,"d":2000,"f":0.055}
],
"cont":[
{"k":1,"f":0.73,"n":400,"B":26},{"k":1,"f":0.73,"n":596,"B":37},{"k":1,"f":0.73,"n":643,"B":55},{"k":1,"f":0.73,"n":666,"B":77},{"k":1,"f":0.73,"n":694,"B":105},{"k":1,"f":0.73,"n":711,"B":140},{"k":1,"f":0.73,"n":744,"B":180},{"k":1,"f":0.73,"n":773,"B":225},{"k":1,"f":0.73,"n":801,"B":275},{"k":1,"f":0.73,"n":821,"B":325},{"k":1,"f":0.73,"n":839,"B":375},{"k":1,"f":0.73,"n":854,"B":425},{"k":1,"f":0.73,"n":864,"B":475},{"k":1,"f":0.73,"n":871,"B":530},{"k":1,"f":0.73,"n":875,"B":600},{"k":1,"f":0.73,"n":875,"B":2000},
{"k":2,"f":0.75,"n":400,"B":28},{"k":2,"f":0.75,"n":568,"B":37},{"k":2,"f":0.75,"n":621,"B":55},{"k":2,"f":0.75,"n":646,"B":77},{"k":2,"f":0.75,"n":676,"B":105},{"k":2,"f":0.75,"n":696,"B":140},{"k":2,"f":0.75,"n":730,"B":180},{"k":2,"f":0.75,"n":761,"B":225},{"k":2,"f":0.75,"n":790,"B":275},{"k":2,"f":0.75,"n":811,"B":325},{"k":2,"f":0.75,"n":829,"B":375},{"k":2,"f":0.75,"n":845,"B":425},{"k":2,"f":0.75,"n":855,"B":475},{"k":2,"f":0.75,"n":863,"B":530},{"k":2,"f":0.75,"n":867,"B":600},{"k":2,"f":0.75,"n":867,"B":2000},
{"k":3,"f":0.77,"n":400,"B":30},{"k":3,"f":0.77,"n":543,"B":37},{"k":3,"f":0.77,"n":603,"B":55},{"k":3,"f":0.77,"n":629,"B":77},{"k":3,"f":0.77,"n":662,"B":105},{"k":3,"f":0.77,"n":683,"B":140},{"k":3,"f":0.77,"n":719,"B":180},{"k":3,"f":0.77,"n":750,"B":225},{"k":3,"f":0.77,"n":781,"B":275},{"k":3,"f":0.77,"n":804,"B":325},{"k":3,"f":0.77,"n":822,"B":375},{"k":3,"f":0.77,"n":837,"B":425},{"k":3,"f":0.77,"n":848,"B":475},{"k":3,"f":0.77,"n":856,"B":530},{"k":3,"f":0.77,"n":860,"B":600},{"k":3,"f":0.77,"n":860,"B":2000},
{"k":4,"f":0.79,"n":400,"B":32},{"k":4,"f":0.79,"n":522,"B":37},{"k":4,"f":0.79,"n":588,"B":55},{"k":4,"f":0.79,"n":617,"B":77},{"k":4,"f":0.79,"n":651,"B":105},{"k":4,"f":0.79,"n":673,"B":140},{"k":4,"f":0.79,"n":710,"B":180},{"k":4,"f":0.79,"n":743,"B":225},{"k":4,"f":0.79,"n":775,"B":275},{"k":4,"f":0.79,"n":797,"B":325},{"k":4,"f":0.79,"n":816,"B":375},{"k":4,"f":0.79,"n":832,"B":425},{"k":4,"f":0.79,"n":843,"B":475},{"k":4,"f":0.79,"n":851,"B":530},{"k":4,"f":0.79,"n":855,"B":600},{"k":4,"f":0.79,"n":855,"B":2000},
{"k":5,"f":0.815,"n":400,"B":33},{"k":5,"f":0.815,"n":499,"B":37},{"k":5,"f":0.815,"n":572,"B":55},{"k":5,"f":0.815,"n":603,"B":77},{"k":5,"f":0.815,"n":639,"B":105},{"k":5,"f":0.815,"n":662,"B":140},{"k":5,"f":0.815,"n":701,"B":180},{"k":5,"f":0.815,"n":735,"B":225},{"k":5,"f":0.815,"n":768,"B":275},{"k":5,"f":0.815,"n":791,"B":325},{"k":5,"f":0.815,"n":810,"B":375},{"k":5,"f":0.815,"n":826,"B":425},{"k":5,"f":0.815,"n":837,"B":475},{"k":5,"f":0.815,"n":846,"B":530},{"k":5,"f":0.815,"n":850,"B":600},{"k":5,"f":0.815,"n":850,"B":2000},
{"k":6,"f":0.845,"n":400,"B":35},{"k":6,"f":0.845,"n":467,"B":37},{"k":6,"f":0.845,"n":552,"B":55},{"k":6,"f":0.845,"n":586,"B":77},{"k":6,"f":0.845,"n":625,"B":105},{"k":6,"f":0.845,"n":649,"B":140},{"k":6,"f":0.845,"n":691,"B":180},{"k":6,"f":0.845,"n":725,"B":225},{"k":6,"f":0.845,"n":760,"B":275},{"k":6,"f":0.845,"n":784,"B":325},{"k":6,"f":0.845,"n":804,"B":375},{"k":6,"f":0.845,"n":820,"B":425},{"k":6,"f":0.845,"n":831,"B":475},{"k":6,"f":0.845,"n":840,"B":530},{"k":6,"f":0.845,"n":844,"B":600},{"k":6,"f":0.845,"n":844,"B":2000},
{"k":7,"f":0.875,"n":400,"B":36},{"k":7,"f":0.875,"n":426,"B":37},{"k":7,"f":0.875,"n":529,"B":55},{"k":7,"f":0.875,"n":566,"B":77},{"k":7,"f":0.875,"n":610,"B":105},{"k":7,"f":0.875,"n":635,"B":140},{"k":7,"f":0.875,"n":680,"B":180},{"k":7,"f":0.875,"n":716,"B":225},{"k":7,"f":0.875,"n":751,"B":275},{"k":7,"f":0.875,"n":777,"B":325},{"k":7,"f":0.875,"n":797,"B":375},{"k":7,"f":0.875,"n":813,"B":425},{"k":7,"f":0.875,"n":824,"B":475},{"k":7,"f":0.875,"n":833,"B":530},{"k":7,"f":0.875,"n":838,"B":600},{"k":7,"f":0.875,"n":838,"B":2000},
{"k":8,"f":0.905,"n":400,"B":40},{"k":8,"f":0.905,"n":503,"B":55},{"k":8,"f":0.905,"n":547,"B":77},{"k":8,"f":0.905,"n":594,"B":105},{"k":8,"f":0.905,"n":621,"B":140},{"k":8,"f":0.905,"n":668,"B":180},{"k":8,"f":0.905,"n":707,"B":225},{"k":8,"f":0.905,"n":743,"B":275},{"k":8,"f":0.905,"n":769,"B":325},{"k":8,"f":0.905,"n":790,"B":375},{"k":8,"f":0.905,"n":807,"B":425},{"k":8,"f":0.905,"n":818,"B":475},{"k":8,"f":0.905,"n":827,"B":530},{"k":8,"f":0.905,"n":832,"B":600},{"k":8,"f":0.905,"n":832,"B":2000},
{"k":9,"f":0.935,"n":400,"B":45},{"k":9,"f":0.935,"n":474,"B":55},{"k":9,"f":0.935,"n":524,"B":77},{"k":9,"f":0.935,"n":576,"B":105},{"k":9,"f":0.935,"n":607,"B":140},{"k":9,"f":0.935,"n":656,"B":180},{"k":9,"f":0.935,"n":697,"B":225},{"k":9,"f":0.935,"n":734,"B":275},{"k":9,"f":0.935,"n":761,"B":325},{"k":9,"f":0.935,"n":783,"B":375},{"k":9,"f":0.935,"n":800,"B":425},{"k":9,"f":0.935,"n":812,"B":475},{"k":9,"f":0.935,"n":821,"B":530},{"k":9,"f":0.935,"n":826,"B":600},{"k":9,"f":0.935,"n":826,"B":2000},
{"k":10,"f":0.965,"n":400,"B":50},{"k":10,"f":0.965,"n":438,"B":55},{"k":10,"f":0.965,"n":499,"B":77},{"k":10,"f":0.965,"n":558,"B":105},{"k":10,"f":0.965,"n":591,"B":140},{"k":10,"f":0.965,"n":644,"B":180},{"k":10,"f":0.965,"n":687,"B":225},{"k":10,"f":0.965,"n":725,"B":275},{"k":10,"f":0.965,"n":754,"B":325},{"k":10,"f":0.965,"n":776,"B":375},{"k":10,"f":0.965,"n":794,"B":425},{"k":10,"f":0.965,"n":806,"B":475},{"k":10,"f":0.965,"n":815,"B":530},{"k":10,"f":0.965,"n":820,"B":600},{"k":10,"f":0.965,"n":820,"B":2000},
{"k":11,"f":0.995,"n":400,"B":59},{"k":11,"f":0.995,"n":462,"B":77},{"k":11,"f":0.995,"n":533,"B":105},{"k":11,"f":0.995,"n":570,"B":140},{"k":11,"f":0.995,"n":628,"B":180},{"k":11,"f":0.995,"n":674,"B":225},{"k":11,"f":0.995,"n":715,"B":275},{"k":11,"f":0.995,"n":744,"B":325},{"k":11,"f":0.995,"n":767,"B":375},{"k":11,"f":0.995,"n":786,"B":425},{"k":11,"f":0.995,"n":798,"B":475},{"k":11,"f":0.995,"n":808,"B":530},{"k":11,"f":0.995,"n":812,"B":600},{"k":11,"f":0.995,"n":812,"B":2000}
],
"pts":[
{"x":1405,"y":250,"t":"DSA-110"},
{"x":1350,"y":1300,"t":"DSA-2000"},{"x":900,"y":400,"t":"DSA-2000"},{"x":1800,"y":400,"t":"DSA-2000"},
{"x":870,"y":336,"t":"ASKAP CRAFT"},{"x":1320,"y":336,"t":"ASKAP CRAFT"},
{"x":500,"y":400,"t":"CHORD"},{"x":900,"y":1200,"t":"CHORD"},{"x":1300,"y":400,"t":"CHORD"}
]},
"layer":[
{"data":{"name":"grid"},
"mark":{"type":"rect"},
"encoding":{
"x":{"field":"a","type":"quantitative","title":"central frequency (MHz)","scale":{"domain":[400,2000],"nice":false,"zero":false},"axis":{"values":[400,600,800,1000,1200,1400,1600,1800,2000],"labelPadding":3,"titlePadding":5}},
"x2":{"field":"b"},
"y":{"field":"c","type":"quantitative","title":"bandwidth (MHz)","scale":{"domain":[0,2000],"nice":false,"zero":false},"axis":{"values":[0,250,500,750,1000,1250,1500,1750,2000],"labelPadding":4,"titlePadding":6}},
"y2":{"field":"d"},
"color":{"field":"f","type":"quantitative","scale":{"scheme":"viridis","domain":[0,1]},"legend":{"type":"gradient","title":"𝑓resolved","orient":"right","offset":28,"direction":"vertical","gradientLength":328,"gradientThickness":17,"values":[0,0.2,0.4,0.6,0.8,1],"format":".1f","labelFontSize":16.5,"labelOffset":6,"labelColor":"black","gradientStrokeColor":"black","gradientStrokeWidth":0.8,"titleOrient":"right","titleFontSize":15,"titleFontWeight":"normal","titleColor":"black","titleAnchor":"middle","titleFont":"Liberation Serif","labelFont":"Liberation Serif","encode":{"labels":{"update":{"baseline":{"value":"middle"}}},"title":{"update":{"angle":{"value":270},"baseline":{"value":"top"}}}}}}
}},
{"data":{"name":"grid"},
"mark":{"type":"rect"},
"encoding":{
"x":{"field":"a","type":"quantitative","title":"central frequency (MHz)","scale":{"domain":[400,2000],"nice":false,"zero":false}},
"x2":{"field":"b"},
"y":{"field":"c","type":"quantitative","title":"bandwidth (MHz)","scale":{"domain":[0,2000],"nice":false,"zero":false}},
"y2":{"field":"d"},
"color":{"field":"f","type":"quantitative","scale":{"scheme":"viridis","domain":[0,1]}}
}},
{"data":{"name":"grid"},
"mark":{"type":"rect"},
"encoding":{
"x":{"field":"a","type":"quantitative","title":"central frequency (MHz)","scale":{"domain":[400,2000],"nice":false,"zero":false}},
"x2":{"field":"b"},
"y":{"field":"c","type":"quantitative","title":"bandwidth (MHz)","scale":{"domain":[0,2000],"nice":false,"zero":false}},
"y2":{"field":"d"},
"color":{"field":"f","type":"quantitative","scale":{"scheme":"viridis","domain":[0,1]}}
}},
{"data":{"name":"cont"},
"mark":{"type":"area","orient":"horizontal"},
"encoding":{
"y":{"field":"B","type":"quantitative","title":"bandwidth (MHz)","scale":{"domain":[0,2000],"nice":false,"zero":false}},
"x":{"field":"n","type":"quantitative","title":"central frequency (MHz)","scale":{"domain":[400,2000],"nice":false,"zero":false}},
"x2":{"datum":400},
"detail":{"field":"k","type":"nominal"},
"color":{"field":"f","type":"quantitative","scale":{"scheme":"viridis","domain":[0,1]}}
}},
{"data":{"name":"pts"},
"mark":{"type":"point","filled":true,"fill":"white","stroke":"black","strokeWidth":1,"opacity":1,"size":120},
"encoding":{
"x":{"field":"x","type":"quantitative","title":"central frequency (MHz)","scale":{"domain":[400,2000],"nice":false,"zero":false}},
"y":{"field":"y","type":"quantitative","title":"bandwidth (MHz)","scale":{"domain":[0,2000],"nice":false,"zero":false}},
"shape":{"field":"t","type":"nominal","scale":{"domain":["DSA-110","ASKAP CRAFT","DSA-2000","CHORD"],"range":["M-1,-0.6L-0.6,-1L0,-0.4L0.6,-1L1,-0.6L0.4,0L1,0.6L0.6,1L0,0.4L-0.6,1L-1,0.6L-0.4,0Z","triangle-up","circle","square"]},
"legend":{"title":null,"orient":"none","legendX":129,"legendY":8,"columns":2,"direction":"horizontal","labelFontSize":15.9,"labelFont":"Liberation Serif","labelColor":"black","symbolSize":120,"symbolOffset":9,"fillColor":"rgba(255,255,255,0.8)","strokeColor":"#cccccc","cornerRadius":4,"padding":8,"columnPadding":37,"rowPadding":1,"labelOffset":20,"encode":{"symbols":{"update":{"fill":{"value":"white"},"stroke":{"value":"black"},"strokeWidth":{"value":1},"opacity":{"value":1}}}}}}
}}
]
}
